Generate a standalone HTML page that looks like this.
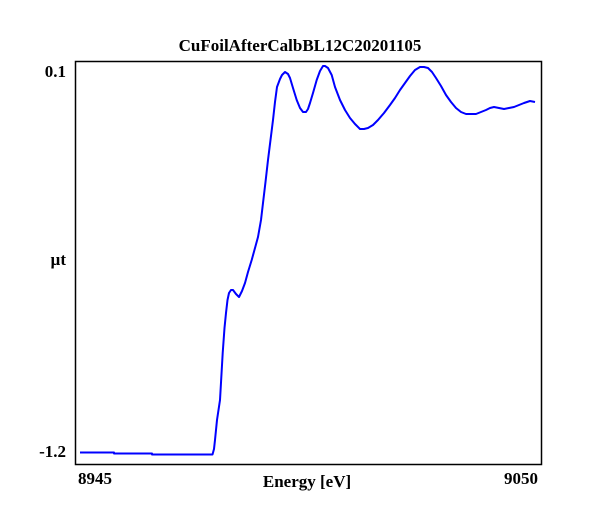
<!DOCTYPE html>
<html><head><meta charset="utf-8"><style>
html,body{margin:0;padding:0;background:#fff;}
svg text{font-family:"Liberation Serif",serif;font-weight:bold;fill:#000;}
</style></head><body>
<svg width="600" height="520" viewBox="0 0 600 520" xmlns="http://www.w3.org/2000/svg">
<rect x="0" y="0" width="600" height="520" fill="#fff"/>
<text x="300" y="51" font-size="17" text-anchor="middle">CuFoilAfterCalbBL12C20201105</text>
<rect x="75.5" y="61.5" width="466" height="403" fill="none" stroke="#000" stroke-width="1.5"/>
<text x="66" y="77" font-size="17" text-anchor="end">0.1</text>
<text x="66" y="265" font-size="17" text-anchor="end">µt</text>
<text x="66" y="457" font-size="17" text-anchor="end">-1.2</text>
<text x="78" y="484" font-size="17">8945</text>
<text x="538" y="484" font-size="17" text-anchor="end">9050</text>
<text x="307" y="487" font-size="17" text-anchor="middle">Energy [eV]</text>
<polyline fill="none" stroke="#0000ff" stroke-width="2" stroke-linejoin="round" points="
80,452.5 114,452.5 114,453.5 152,453.5 152,454.5 212.5,454.5 214,449 215,440 217,420 220,400 222.7,353 224.5,328 226,313 227.5,300 229,293 231,290 233,290 236,294 239,297 242,291 245,283 248,272 251.7,260 255,248 258,237 261,220 263,203 265.5,182 268,160 270.5,140 273,120 275,102 277,87 280,79 282,75 285,72 288,74 290,78 293,88 296.7,100 300,108 303,112 306,112 308,109 310,103 313,93 316.7,80 320,71 323,66 325,66 328,68 331.7,75 335,87 340,100 345,110 350,118 355,124 360,129 364,129 368,128 373,125 378,120 384,113 390,105 395,98 400,90 405,83 410,76 415,70 420,67 424,67 428,68 432,72 436,78 441,86 446,95 451,102 456,108 461,112 466,114 471,114 476,114 481,112 486,110 490,108 494,107 499,108 504,109 509,108 514,107 519,105 524,103 530,101 535,102"/>
</svg>
</body></html>
